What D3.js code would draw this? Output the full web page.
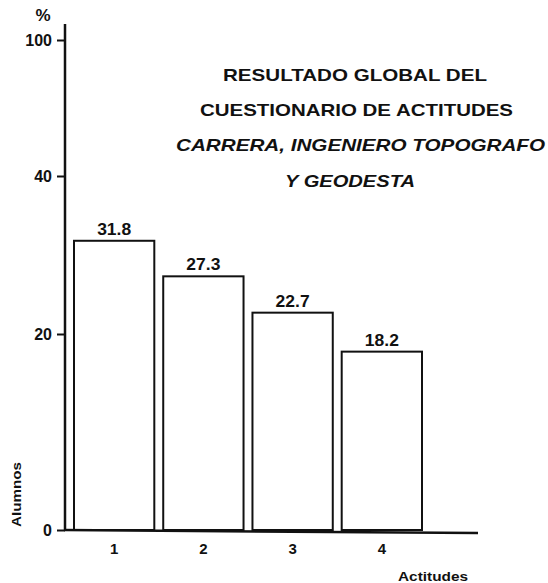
<!DOCTYPE html>
<html>
<head>
<meta charset="utf-8">
<script src="https://cdn.jsdelivr.net/npm/d3@7"></script>
<style>
  body { margin: 0; background: #fff; }
  svg { display: block; }
  text { font-family: "Liberation Sans", Arial, sans-serif; font-weight: bold; fill: #111; }
</style>
</head>
<body>
<div id="chart"></div>
<script>
// data
const categories = ['1', '2', '3', '4'];
const values = [31.8, 27.3, 22.7, 18.2];
const yTicks = [0, 20, 40, 100];
const titleLines = ['RESULTADO GLOBAL DEL', 'CUESTIONARIO DE ACTITUDES'];
const subtitleLines = ['CARRERA, INGENIERO TOPOGRAFO', 'Y GEODESTA'];

(function() {
  'use strict';

  const width = 548, height = 583;
  const ink = '#111';
  const font = '"Liberation Sans", Arial, sans-serif';

  const svg = d3.select('#chart')
    .append('svg')
    .attr('width', width)
    .attr('height', height);

  // broken axis: 0-20-40 then jump to 100
  const y = d3.scaleLinear()
    .domain([0, 20, 40, 100])
    .range([530, 334, 176, 40]);

  const x = d3.scaleBand()
    .domain(categories)
    .range([74, 422])
    .paddingInner(0.1)
    .paddingOuter(0);

  // Bars
  svg.append('g')
    .selectAll('rect')
    .data(values)
    .join('rect')
    .attr('x', (d, i) => x(categories[i]))
    .attr('y', d => y(d))
    .attr('width', x.bandwidth())
    .attr('height', d => y(0) - y(d))
    .attr('fill', '#fff')
    .attr('stroke', ink)
    .attr('stroke-width', 2);

  // Value labels
  svg.append('g')
    .selectAll('text')
    .data(values)
    .join('text')
    .attr('x', (d, i) => x(categories[i]) + x.bandwidth() / 2)
    .attr('y', d => y(d) - 6)
    .attr('text-anchor', 'middle')
    .attr('font-size', '16px')
    .attr('textLength', 34)
    .attr('lengthAdjust', 'spacingAndGlyphs')
    .text(d => d.toFixed(1));

  // Y axis
  const yAxis = svg.append('g')
    .attr('transform', 'translate(65,0)')
    .call(d3.axisLeft(y).tickValues(yTicks).tickSize(8).tickPadding(5).tickFormat(d3.format('d')));
  yAxis.select('.domain').remove();
  yAxis.selectAll('.tick line').attr('stroke', ink).attr('stroke-width', 2);
  yAxis.selectAll('.tick text')
    .attr('font-size', '16px')
    .attr('font-weight', 'bold')
    .attr('font-family', font)
    .attr('fill', ink);
  svg.append('line')
    .attr('x1', 65).attr('x2', 65)
    .attr('y1', y(100) - 16).attr('y2', y(0) + 1)
    .attr('stroke', ink).attr('stroke-width', 2.5);

  // X axis
  const xAxis = svg.append('g')
    .attr('transform', `translate(0,${y(0)})`)
    .call(d3.axisBottom(x).tickSize(0).tickPadding(13));
  xAxis.select('.domain').remove();
  xAxis.selectAll('.tick text')
    .attr('font-size', '15px')
    .attr('font-weight', 'bold')
    .attr('font-family', font)
    .attr('fill', ink);
  svg.append('line')
    .attr('x1', 64).attr('x2', 478)
    .attr('y1', y(0)).attr('y2', y(0) + 3)
    .attr('stroke', ink).attr('stroke-width', 2.5);

  // Axis titles
  svg.append('text')
    .attr('x', 43).attr('y', 21)
    .attr('text-anchor', 'middle')
    .attr('font-size', '17px')
    .text('%');

  svg.append('text')
    .attr('transform', 'translate(21,527) rotate(-90)')
    .attr('font-size', '13px')
    .attr('textLength', 65)
    .attr('lengthAdjust', 'spacingAndGlyphs')
    .text('Alumnos');

  svg.append('text')
    .attr('x', 398).attr('y', 581)
    .attr('font-size', '13px')
    .attr('textLength', 70)
    .attr('lengthAdjust', 'spacingAndGlyphs')
    .text('Actitudes');

  // Title block
  const titlePos = [{x: 223, y: 81, w: 264}, {x: 200, y: 116, w: 313}];
  titleLines.forEach((t, i) => {
    svg.append('text')
      .attr('x', titlePos[i].x).attr('y', titlePos[i].y)
      .attr('font-size', '17px')
      .attr('textLength', titlePos[i].w)
      .attr('lengthAdjust', 'spacingAndGlyphs')
      .text(t);
  });

  const subPos = [{x: 176, y: 151, w: 369}, {x: 285, y: 187, w: 130}];
  subtitleLines.forEach((t, i) => {
    svg.append('text')
      .attr('x', subPos[i].x).attr('y', subPos[i].y)
      .attr('font-size', '17px')
      .attr('font-style', 'italic')
      .attr('textLength', subPos[i].w)
      .attr('lengthAdjust', 'spacingAndGlyphs')
      .text(t);
  });
})();
</script>
</body>
</html>
